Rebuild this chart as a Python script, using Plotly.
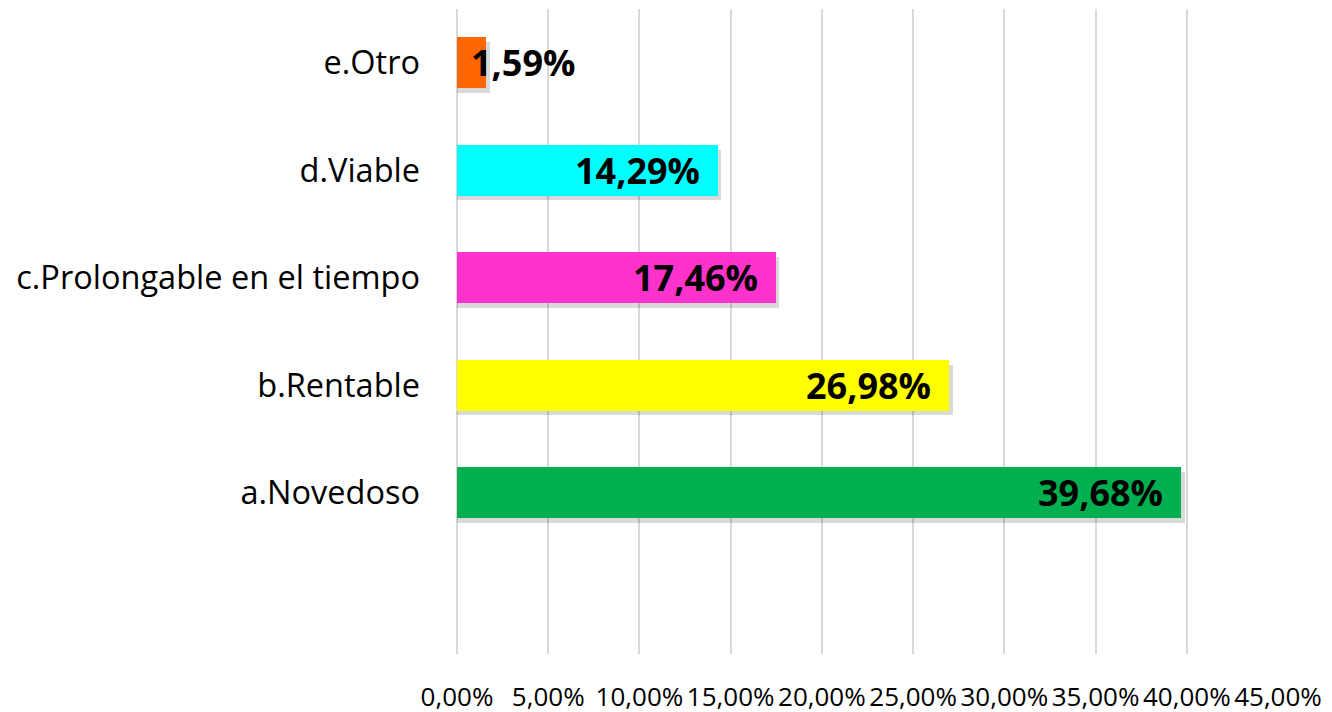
import plotly.graph_objects as go

categories = ["a.Novedoso", "b.Rentable", "c.Prolongable en el tiempo", "d.Viable", "e.Otro"]
values = [39.68, 26.98, 17.46, 14.29, 1.59]
labels = ["39,68%", "26,98%", "17,46%", "14,29%", "1,59%"]
colors = ["#00B050", "#FFFF00", "#FF33CC", "#00FFFF", "#FF6600"]
xtick_vals = [0, 5, 10, 15, 20, 25, 30, 35, 40, 45]
xtick_text = ["0,00%", "5,00%", "10,00%", "15,00%", "20,00%", "25,00%", "30,00%", "35,00%", "40,00%", "45,00%"]

positions = list(range(1, len(categories) + 1))
FONT = "Open Sans"
BAR_W = 0.47

fig = go.Figure()
# soft drop shadow
fig.add_trace(go.Bar(
    y=positions, x=[v + 0.2 for v in values], orientation="h",
    width=BAR_W, offset=-BAR_W / 2 - 0.045,
    marker=dict(color="rgba(0,0,0,0.15)", line=dict(width=0)),
    hoverinfo="skip", showlegend=False,
))
fig.add_trace(go.Bar(
    y=positions, x=values, orientation="h",
    width=BAR_W,
    marker=dict(color=colors, line=dict(width=0)),
    showlegend=False,
))

for p, v, t in zip(positions, values, labels):
    if v > 5:
        fig.add_annotation(x=v, y=p, text="<b>" + t + "</b>", showarrow=False,
                           xanchor="right", xshift=-16,
                           font=dict(family=FONT, size=36, color="black"))
    else:
        fig.add_annotation(x=v, y=p, text="<b>" + t + "</b>", showarrow=False,
                           xanchor="left", xshift=-17,
                           font=dict(family=FONT, size=36, color="black"))

fig.update_layout(
    width=1332, height=712,
    margin=dict(l=449, r=62, t=1, b=66),
    paper_bgcolor="white", plot_bgcolor="white",
    bargap=0, barmode="overlay",
    font=dict(family=FONT, color="black"),
)
fig.update_xaxes(
    range=[0, 45], tickvals=xtick_vals, ticktext=xtick_text,
    showgrid=True, gridcolor="#D9D9D9", gridwidth=1.5,
    zeroline=True, zerolinecolor="#D9D9D9", zerolinewidth=1.5,
    showline=False, ticks="", ticklabelstandoff=25, tickangle=0,
    automargin=False,
    tickfont=dict(family=FONT, size=26, color="black"),
)
fig.update_yaxes(
    range=[0.5 - 1, 5.5], tickvals=positions, ticktext=categories,
    showgrid=False, zeroline=False, showline=False, ticks="",
    ticklabelstandoff=36, automargin=False,
    tickfont=dict(family=FONT, size=32.5, color="black"),
)

fig.write_html("out.html")
